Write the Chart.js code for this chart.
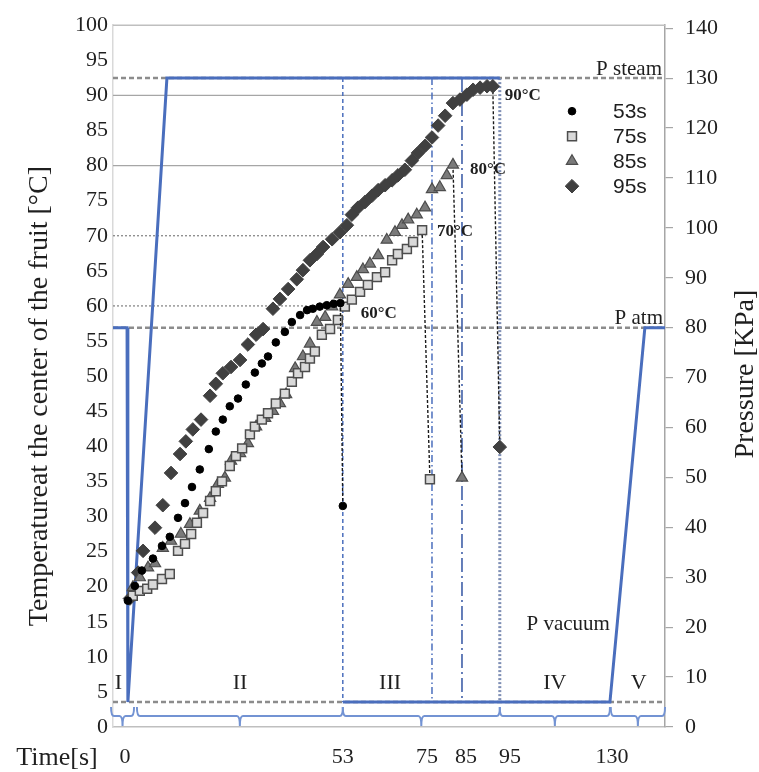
<!DOCTYPE html>
<html>
<head>
<meta charset="utf-8">
<title>Temperature at the center of the fruit and pressure</title>
<script src="https://cdn.jsdelivr.net/npm/chart.js@4.4.1/dist/chart.umd.min.js"></script>
<style>
html,body{margin:0;padding:0;background:#ffffff;}
#box{position:relative;width:759px;height:772px;}
canvas{display:block;}
</style>
</head>
<body>
<div id="box"><canvas id="chart" width="759" height="772"></canvas></div>
<script>
// ---------------- data ----------------
const seriesNames = ['53s', '75s', '85s', '95s'];

// time axis is schematic: values are positions on the time axis
const time53 = [0.7,2.4,4.1,6.8,9.0,10.9,12.9,14.6,16.3,18.2,20.4,22.1,23.8,25.5,27.5,29.4,31.6,33.3,34.8,36.7,38.9,40.6,42.6,44.3,45.7,47.4,49.1,50.8,52.4,53.0];
const temp53 = [18.0,20.1,22.3,24.0,25.8,27.1,29.8,31.9,34.2,36.7,39.6,42.1,43.8,45.7,46.8,48.8,50.5,51.8,52.8,54.8,56.3,57.7,58.7,59.4,59.6,59.9,60.1,60.3,60.4,31.5];

const time75 = [1.9,3.6,5.4,6.8,9.0,10.9,12.9,14.6,16.1,17.5,19.0,20.7,22.1,23.6,25.5,27.0,28.5,30.4,31.6,33.3,34.8,36.7,38.9,40.6,42.1,43.8,45.0,46.2,47.9,49.9,51.8,53.5,55.2,57.2,59.1,61.3,63.3,65.0,66.4,68.6,70.1,72.3,74.2];
const temp75 = [18.7,19.4,19.7,20.3,21.1,21.8,25.1,26.1,27.5,29.1,30.5,32.2,33.6,35.0,37.2,38.6,39.7,41.7,42.8,43.8,44.7,46.1,47.5,49.2,50.4,51.3,52.5,53.5,55.9,56.7,58.0,59.9,60.9,62.0,63.0,64.1,64.8,66.5,67.4,68.1,69.1,70.8,35.3];

const time85 = [1.9,3.6,5.6,7.3,9.2,11.2,13.6,15.8,18.2,20.7,22.6,24.3,25.8,28.0,29.9,31.9,34.1,36.0,37.7,39.2,41.4,43.3,45.0,46.7,48.7,50.4,52.3,54.3,56.4,57.9,59.6,61.6,63.7,65.7,67.4,68.9,71.0,73.0,74.7,76.6,78.3,79.8,82.0];
const temp85 = [19.9,21.3,22.7,23.3,25.5,26.5,27.5,28.9,30.8,32.6,34.6,35.5,37.9,39.0,40.4,42.8,44.0,45.0,46.1,47.4,51.1,52.8,54.6,57.7,58.4,59.9,61.6,63.1,64.1,65.2,66.0,67.2,69.4,70.5,71.5,72.3,73.0,74.0,76.6,76.9,78.6,80.1,35.5];

const time95 = [1.2,3.2,4.4,7.3,9.2,11.2,13.4,14.8,16.5,18.5,20.7,22.1,23.8,25.8,28.0,29.9,31.9,33.6,36.0,37.7,39.7,41.8,43.3,45.0,46.7,48.2,50.4,52.3,54.0,55.2,56.7,58.4,60.1,61.6,63.3,65.0,66.4,68.1,69.8,71.3,73.0,74.7,76.2,77.9,79.8,81.5,83.2,84.7,86.4,88.1,89.5,91.2];
const temp95 = [18.3,22.0,25.1,28.4,31.6,36.2,38.9,40.7,42.4,43.8,47.2,48.9,50.4,51.3,52.3,54.5,55.9,56.7,59.6,61.0,62.4,63.8,65.1,66.5,67.4,68.4,69.5,70.5,71.5,73.0,74.0,74.8,75.7,76.5,77.2,77.9,78.6,79.4,80.7,81.8,82.8,84.0,85.7,87.1,88.9,89.4,90.1,90.8,91.1,91.3,91.3,39.9];

// pressure profile (KPa)
const pressTime = [-2.92, 0.5, 0.7, 10.2, 91.2];
const pressKPa  = [80, 80, 5, 130, 130];
const ventTime  = [53, 118, 126.5, 131.4];
const ventKPa   = [5, 5, 80, 80];
const dropTimes = [53, 74.7, 82, 91.2];
const pLevels     = [130, 80, 5];
const pLevelNames = ['P steam', 'P atm', 'P vacuum'];

// temperature targets and the time each is reached
const refTemps = [60, 70, 80, 90];
const refEnd   = [51.5, 73.2, 81.5, 90.5];

// time axis tick labels
const xTickPos    = [0, 53, 73.5, 83, 93.7, 118.5];
const xTickLabels = ['0', '53', '75', '85', '95', '130'];

// process phases
const phaseNames   = ['I', 'II', 'III', 'IV', 'V'];
const phaseStart   = [-3.4, 2.9, 53, 91.2, 118.2];
const phaseEnd     = [2.2, 53, 91.2, 118, 131.4];
const phaseLabelAt = [-1.6, 28, 64.5, 104.6, 125];

const yTitleLeft  = 'Temperatureat the center of the fruit [°C]';
const yTitleRight = 'Pressure [KPa]';
const xTitle      = 'Time[s]';

// ---------------- styling ----------------
const SERIF = "'Liberation Serif', 'Times New Roman', serif";
const SANS  = "'Liberation Sans', Arial, sans-serif";
const TXT = '#1f1f1f';
const BLUE = '#4a6ebd';
const X_MIN = -2.92, X_MAX = 131.4;

const toPts = (xs, ys) => xs.map((v, i) => ({x: v, y: ys[i]}));

function tempSeries(label, xs, ys, style, radius, fill, stroke, bw) {
  const n = xs.length;
  return {
    label, data: toPts(xs, ys), yAxisID: 'yT', showLine: true,
    borderColor: 'rgba(0,0,0,0)', borderWidth: 1.4, borderDash: [3, 2],
    segment: { borderColor: c => c.p1DataIndex === n - 1 ? '#1a1a1a' : 'rgba(0,0,0,0)' },
    pointStyle: style, pointRadius: radius, pointHoverRadius: radius,
    pointBackgroundColor: fill, pointBorderColor: stroke, pointBorderWidth: bw
  };
}
function lineSet(xs, ys, axis, color, width, dash) {
  return { data: toPts(xs, ys), yAxisID: axis, showLine: true, borderColor: color,
    borderWidth: width, borderDash: dash || [], pointRadius: 0, pointHoverRadius: 0,
    fill: false, tension: 0 };
}

const dropColors = [BLUE, BLUE, '#3f5fa8', '#7f8fb5'];
const dropWidths = [1.5, 1.5, 1.6, 3];
const dropDashes = [[4, 3], [7, 3, 1.5, 3], [14, 4, 2, 4], [2, 2]];
const refColors = ['#7f7f7f', '#7f7f7f', '#a6a6a6', '#a6a6a6'];
const refDashes = [[2, 2], [2, 2], [], []];

const datasets = [
  tempSeries(seriesNames[0], time53, temp53, 'circle', 3.8, '#000000', '#000000', 1),
  tempSeries(seriesNames[1], time75, temp75, 'rect', 6.3, '#d9d9d9', '#4d4d4d', 1.5),
  tempSeries(seriesNames[2], time85, temp85, 'triangle', 6.5, '#7a7a7a', '#4d4d4d', 1.2),
  tempSeries(seriesNames[3], time95, temp95, 'rectRot', 6.8, '#404040', '#404040', 1),
  lineSet(pressTime, pressKPa, 'yP', BLUE, 3),
  lineSet(ventTime, ventKPa, 'yP', BLUE, 3),
  ...dropTimes.map((t, i) => lineSet([t, t], [pLevels[0], pLevels[2]], 'yP', dropColors[i], dropWidths[i], dropDashes[i])),
  ...pLevels.map(v => lineSet([X_MIN, X_MAX], [v, v], 'yP', '#8c8c8c', 2.5, [5, 3])),
  ...refTemps.map((v, i) => lineSet([X_MIN, refEnd[i]], [v, v], 'yT', refColors[i], 1.2, refDashes[i]))
];

function drawMarker(ctx, ds, x, y) {
  ctx.save();
  ctx.fillStyle = ds.pointBackgroundColor;
  ctx.strokeStyle = ds.pointBorderColor;
  ctx.lineWidth = ds.pointBorderWidth;
  if (Chart.helpers && Chart.helpers.drawPoint) {
    Chart.helpers.drawPoint(ctx, {pointStyle: ds.pointStyle, radius: ds.pointRadius, borderWidth: ds.pointBorderWidth, rotation: 0}, x, y);
  } else {
    ctx.beginPath(); ctx.arc(x, y, ds.pointRadius, 0, Math.PI * 2); ctx.fill(); ctx.stroke();
  }
  ctx.restore();
}

const deco = {
  id: 'deco',
  beforeDatasetsDraw(chart) {
    const {ctx, chartArea: a} = chart;
    ctx.save();
    ctx.strokeStyle = '#bfbfbf'; ctx.lineWidth = 1.5;
    ctx.beginPath(); ctx.moveTo(a.left, a.top); ctx.lineTo(a.right, a.top); ctx.stroke();
    ctx.restore();
  },
  afterDraw(chart) {
    const {ctx, chartArea: a, scales} = chart;
    const x = scales.x, yT = scales.yT, yP = scales.yP;
    ctx.save();

    // phase braces
    ctx.strokeStyle = '#7393d3'; ctx.lineWidth = 2;
    const b = a.bottom, hy = b - 11, ty = b - 20, r = 3;
    phaseStart.forEach((s, i) => {
      const x0 = x.getPixelForValue(s), x1 = x.getPixelForValue(phaseEnd[i]), xm = (x0 + x1) / 2;
      ctx.beginPath();
      ctx.moveTo(x0, ty);
      ctx.quadraticCurveTo(x0, hy, x0 + r, hy);
      ctx.lineTo(xm - r, hy);
      ctx.quadraticCurveTo(xm, hy, xm, b - 1);
      ctx.quadraticCurveTo(xm, hy, xm + r, hy);
      ctx.lineTo(x1 - r, hy);
      ctx.quadraticCurveTo(x1, hy, x1, ty);
      ctx.stroke();
    });

    ctx.fillStyle = TXT;
    // phase labels
    ctx.font = '22px ' + SERIF; ctx.textAlign = 'center'; ctx.textBaseline = 'middle';
    phaseNames.forEach((n, i) => ctx.fillText(n, x.getPixelForValue(phaseLabelAt[i]), b - 44));

    // pressure level labels
    ctx.font = '21px ' + SERIF; ctx.textAlign = 'right'; ctx.textBaseline = 'alphabetic';
    ctx.fillText(pLevelNames[0], a.right - 3, yP.getPixelForValue(pLevels[0]) - 3);
    ctx.fillText(pLevelNames[1], a.right - 2, yP.getPixelForValue(pLevels[1]) - 4);
    ctx.fillText(pLevelNames[2], x.getPixelForValue(ventTime[1]), yP.getPixelForValue(pLevels[2]) - 72);

    // temperature target labels
    const lastTimes = [time53, time75, time85, time95].map(t => t[t.length - 1]);
    const dxs = [18, 7, 8, 5], dys = [8, -4, 4, 0];
    ctx.font = 'bold 17px ' + SERIF; ctx.textAlign = 'left'; ctx.textBaseline = 'middle';
    refTemps.forEach((v, i) => ctx.fillText(v + '°C', x.getPixelForValue(lastTimes[i]) + dxs[i], yT.getPixelForValue(v) + dys[i]));

    // legend
    const lx = a.right - 93, ly0 = a.top + 86, ldy = 25;
    ctx.font = '21px ' + SANS; ctx.textAlign = 'left'; ctx.textBaseline = 'middle';
    seriesNames.forEach((nm, i) => {
      const ds = chart.data.datasets[i];
      drawMarker(ctx, ds, lx, ly0 + i * ldy);
      ctx.fillStyle = TXT;
      ctx.fillText(nm, lx + 41, ly0 + i * ldy + 1);
    });

    // axis titles
    ctx.fillStyle = TXT; ctx.textAlign = 'center'; ctx.textBaseline = 'middle';
    ctx.font = '28px ' + SERIF;
    ctx.save(); ctx.translate(a.left - 73, (a.top + a.bottom) / 2 + 20); ctx.rotate(-Math.PI / 2); ctx.fillText(yTitleLeft, 0, 0); ctx.restore();
    ctx.save(); ctx.translate(a.right + 81, (a.top + a.bottom) / 2 - 2); ctx.rotate(-Math.PI / 2); ctx.fillText(yTitleRight, 0, 0); ctx.restore();
    ctx.font = '26px ' + SERIF;
    ctx.fillText(xTitle, a.left - 56, a.bottom + 31);
    ctx.restore();
  }
};

new Chart(document.getElementById('chart'), {
  type: 'scatter',
  data: { datasets },
  plugins: [deco],
  options: {
    responsive: false, animation: false, events: [], devicePixelRatio: 1,
    layout: { padding: { top: 22, left: 0, right: 0, bottom: 0 } },
    plugins: { legend: { display: false }, tooltip: { enabled: false } },
    scales: {
      x: {
        type: 'linear', min: X_MIN, max: X_MAX,
        afterBuildTicks: s => { s.ticks = xTickPos.map(v => ({value: v})); },
        afterFit: s => { s.height = 45; },
        grid: { display: false, drawTicks: false },
        border: { display: true, color: '#bfbfbf', width: 1.5 },
        ticks: { autoSkip: false, maxRotation: 0, padding: 17, color: TXT,
                 font: { family: SERIF, size: 22 }, callback: (v, i) => xTickLabels[i] }
      },
      yT: {
        type: 'linear', position: 'left', min: 0, max: 100,
        afterFit: s => { s.width = 113; },
        grid: { display: false, drawTicks: false },
        border: { display: true, color: '#d9d9d9', width: 1.5 },
        ticks: { stepSize: 5, autoSkip: false, padding: 5, color: TXT, font: { family: SERIF, size: 22 } }
      },
      yP: {
        type: 'linear', position: 'right', min: 0, max: 140.6,
        afterFit: s => { s.width = 94; },
        grid: { display: true, drawOnChartArea: false, drawTicks: true, tickLength: 8, color: '#a6a6a6', lineWidth: 1.2 },
        border: { display: true, color: '#a6a6a6', width: 1.5 },
        ticks: { stepSize: 10, includeBounds: false, autoSkip: false, padding: 12, color: TXT, font: { family: SERIF, size: 22 } }
      }
    }
  }
});
</script>
</body>
</html>
